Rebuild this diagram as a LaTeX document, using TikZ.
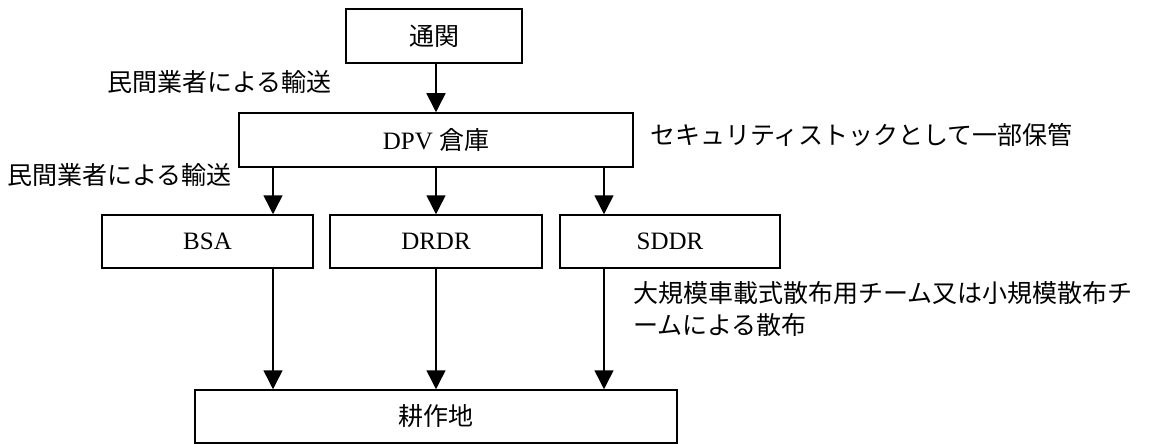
\documentclass[tikz,border=0pt]{standalone}
\usepackage{fontspec}
\setmainfont{Liberation Serif}
\newfontfamily\cjk{Noto Sans CJK JP}
\usetikzlibrary{arrows.meta}
\begin{document}
\begin{tikzpicture}[x=1pt,y=-1pt,
  box/.style={draw, line width=1.5pt, minimum width=#1, minimum height=54pt, inner sep=0pt, font=\fontsize{25}{30}\selectfont},
  arr/.style={line width=1.5pt, -{Triangle[width=19pt,length=19pt]}},
  lbl/.style={font=\cjk\fontsize{25}{32}\selectfont, inner sep=0pt}]
\useasboundingbox (0,0) rectangle (1152,444);
\coordinate (c1) at (273,0);
\coordinate (c2) at (436,0);
\coordinate (c3) at (604,0);
\node[box=176pt] (tsukan) at (434,36) {\cjk 通関};
\node[box=394pt] (dpv) at (436,140) {DPV {\cjk 倉庫}};
\node[box=211pt, minimum height=53pt] (bsa) at (207.5,241.5) {BSA};
\node[box=212pt, minimum height=53pt] (drdr) at (436,241.5) {DRDR};
\node[box=220pt, minimum height=53pt] (sddr) at (670,241.5) {SDDR};
\node[box=482pt, minimum height=53pt] (kosaku) at (436,416.5) {\cjk 耕作地};
\node[lbl, anchor=east] (l1) at (332,82) {民間業者による輸送};
\node[lbl, anchor=east] (l2) at (232,175) {民間業者による輸送};
\node[lbl, anchor=west] (sec) at (650,135) {セキュリティストックとして一部保管};
\node[lbl, anchor=west, align=left] (dist) at (633,309) {大規模車載式散布用チーム又は小規模散布チ\\ームによる散布};
\draw[arr] (c2 |- tsukan.south) -- (c2 |- dpv.north);
\draw[arr] (c1 |- dpv.south) -- (c1 |- bsa.north);
\draw[arr] (c2 |- dpv.south) -- (c2 |- drdr.north);
\draw[arr] (c3 |- dpv.south) -- (c3 |- sddr.north);
\draw[arr] (c1 |- bsa.south) -- (c1 |- kosaku.north);
\draw[arr] (c2 |- drdr.south) -- (c2 |- kosaku.north);
\draw[arr] (c3 |- sddr.south) -- (c3 |- kosaku.north);
\end{tikzpicture}
\end{document}
